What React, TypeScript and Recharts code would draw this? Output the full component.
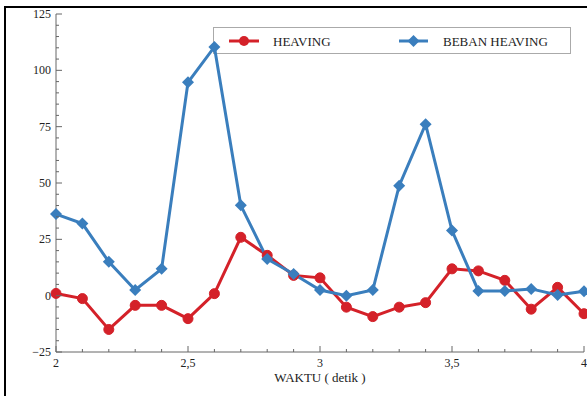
import { LineChart, Line, XAxis, YAxis } from 'recharts';

const waktu = [2.0, 2.1, 2.2, 2.3, 2.4, 2.5, 2.6, 2.7, 2.8, 2.9, 3.0, 3.1, 3.2, 3.3, 3.4, 3.5, 3.6, 3.7, 3.8, 3.9, 4.0];
const heaving = [1, -1.3, -15, -4.3, -4.3, -10.2, 0.9, 25.9, 17.9, 9, 7.9, -5.1, -9.3, -5.1, -3.1, 11.9, 11, 6.8, -6, 3.7, -8];
const bebanHeaving = [36.2, 32, 15, 2.5, 11.9, 94.7, 110.4, 40.1, 16.3, 9.6, 2.5, 0, 2.5, 48.8, 76.1, 28.9, 2.1, 2.1, 3, 0.3, 2];

const xTicks = [2.0, 2.1, 2.2, 2.3, 2.4, 2.5, 2.6, 2.7, 2.8, 2.9, 3.0, 3.1, 3.2, 3.3, 3.4, 3.5, 3.6, 3.7, 3.8, 3.9, 4.0];
const xLabels = [2, 2.5, 3, 3.5, 4];
const yTicks = [-25, -20, -15, -10, -5, 0, 5, 10, 15, 20, 25, 30, 35, 40, 45, 50, 55, 60, 65, 70, 75, 80, 85, 90, 95, 100, 105, 110, 115, 120, 125];
const yLabels = [-25, 0, 25, 50, 75, 100, 125];

const seriesNames = ['HEAVING', 'BEBAN HEAVING'];
const RED = '#d42129';
const BLUE = '#3a7ebd';
const AXIS = '#666';
const FONT = '"Liberation Serif", "Times New Roman", serif';

const data = waktu.map((t, i) => ({ t, heaving: heaving[i], beban: bebanHeaving[i] }));

const isXMajor = (v: number) => xLabels.some((l) => Math.abs(l - v) < 1e-6);
const isYMajor = (v: number) => yLabels.includes(v);
const fmtX = (v: number) => String(Math.round(v * 10) / 10).replace('.', ',');
const fmtY = (v: number) => (v < 0 ? '\u2212' + Math.abs(v) : String(v));

const BottomTick = ({ x, y, payload }: any) => {
  const major = isXMajor(payload.value);
  return (
    <g>
      <line x1={x} x2={x} y1={y} y2={y - (major ? 6 : 3)} stroke={AXIS} />
      {major && (
        <text x={x} y={y + 15} textAnchor="middle" fontFamily={FONT} fontSize={12} fill="#222">
          {fmtX(payload.value)}
        </text>
      )}
    </g>
  );
};

const TopTick = ({ x, y, payload }: any) => (
  <line x1={x} x2={x} y1={y} y2={y + (isXMajor(payload.value) ? 6 : 3)} stroke={AXIS} />
);

const LeftTick = ({ x, y, payload }: any) => {
  const major = isYMajor(payload.value);
  return (
    <g>
      <line x1={x} x2={x + (major ? 6 : 3)} y1={y} y2={y} stroke={AXIS} />
      {major && (
        <text x={x - 5} y={y + 4} textAnchor="end" fontFamily={FONT} fontSize={12} fill="#222">
          {fmtY(payload.value)}
        </text>
      )}
    </g>
  );
};

const RightTick = ({ x, y, payload }: any) => (
  <line x1={x} x2={x - (isYMajor(payload.value) ? 6 : 3)} y1={y} y2={y} stroke={AXIS} />
);

const RedDot = ({ cx, cy }: any) => <circle cx={cx} cy={cy} r={5} fill={RED} stroke={RED} />;
const Diamond = ({ cx, cy }: any) => (
  <polygon points={`${cx},${cy - 6} ${cx + 6},${cy} ${cx},${cy + 6} ${cx - 6},${cy}`} fill={BLUE} />
);

function LegendBox() {
  return (
    <div
      style={{
        position: 'absolute', left: 213, top: 27, width: 356, height: 25,
        border: '1px solid #aaa', background: '#fff', fontFamily: FONT, fontSize: 13, color: '#222',
      }}
    >
      <svg width={356} height={25} style={{ position: 'absolute', left: 0, top: 0 }}>
        <line x1={15} x2={45} y1={13} y2={13} stroke={RED} strokeWidth={3} />
        <circle cx={30} cy={13} r={5} fill={RED} />
        <text x={59} y={17.5} fontFamily={FONT} fontSize={13} fill="#222">{seriesNames[0]}</text>
        <line x1={185} x2={214} y1={13} y2={13} stroke={BLUE} strokeWidth={3} />
        <polygon points="199.5,7 205.5,13 199.5,19 193.5,13" fill={BLUE} />
        <text x={229} y={17.5} fontFamily={FONT} fontSize={13} fill="#222">{seriesNames[1]}</text>
      </svg>
    </div>
  );
}

export default function App() {
  return (
    <div style={{ position: 'absolute', left: 0, top: 0, width: 587, height: 396, background: '#fff', overflow: 'hidden' }}>
      <div style={{ position: 'absolute', left: 4, top: 6, width: 600, height: 400, borderLeft: '2px solid #000', borderTop: '2px solid #000' }} />
      <LegendBox />
      <div style={{ position: 'absolute', left: 0, top: 0 }}>
        <LineChart width={587} height={396} data={data} margin={{ top: 14, right: 3, left: 6, bottom: 4 }}>
          <XAxis
            dataKey="t" type="number" domain={[2, 4]} ticks={xTicks} interval={0}
            height={40} tickSize={0} tickMargin={0} tick={BottomTick}
            axisLine={{ stroke: AXIS }} tickLine={false}
            label={{ value: 'WAKTU ( detik )', position: 'insideBottom', offset: 10, fontFamily: FONT, fontSize: 13, fill: '#222' }}
          />
          <XAxis
            xAxisId="top" orientation="top" dataKey="t" type="number" domain={[2, 4]} ticks={xTicks} interval={0}
            height={0} tickSize={0} tickMargin={0} tick={TopTick} axisLine={{ stroke: AXIS }} tickLine={false}
          />
          <YAxis
            type="number" domain={[-25, 125]} ticks={yTicks} interval={0}
            width={50} tickSize={0} tickMargin={0} tick={LeftTick} axisLine={{ stroke: AXIS }} tickLine={false}
          />
          <YAxis
            yAxisId="right" orientation="right" type="number" domain={[-25, 125]} ticks={yTicks} interval={0}
            width={0} tickSize={0} tickMargin={0} tick={RightTick} axisLine={{ stroke: AXIS }} tickLine={false}
          />
          <Line dataKey="heaving" name={seriesNames[0]} stroke={RED} strokeWidth={3} dot={RedDot} isAnimationActive={false} />
          <Line dataKey="beban" name={seriesNames[1]} stroke={BLUE} strokeWidth={3} dot={Diamond} isAnimationActive={false} />
        </LineChart>
      </div>
    </div>
  );
}
